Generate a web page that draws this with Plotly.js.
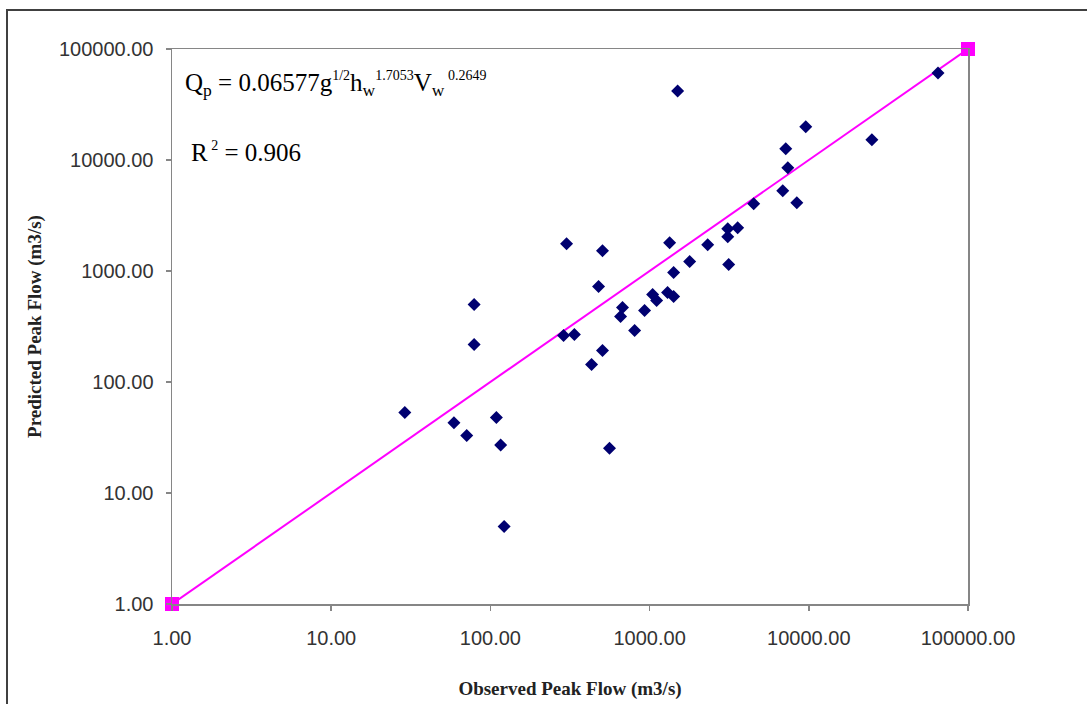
<!DOCTYPE html>
<html>
<head>
<meta charset="utf-8">
<script src="https://cdn.plot.ly/plotly-3.0.1.min.js"></script>
<style>
  html, body { margin: 0; padding: 0; background: #ffffff; overflow: hidden; }
  #chart { width: 1087px; height: 704px; }
</style>
</head>
<body>
<div id="chart"></div>
<script>
// Observed vs predicted peak flow (m3/s)
const observedFlow = [29, 59, 71, 79, 79, 109, 116, 122, 301, 288, 337, 432, 506, 506, 478, 560,
  657, 676, 805, 930, 1045, 1107, 1297, 1336, 1416, 1416, 1500, 1785, 2317, 3096, 3096, 3140,
  3574, 4508, 6860, 7165, 7380, 8410, 9570, 24900, 64800];
const predictedFlow = [53, 43, 33, 500, 218, 48, 27, 5.0, 1760, 262, 268, 144, 192, 1525, 724, 25.3,
  389, 469, 291, 441, 614, 542, 640, 1800, 589, 967, 41900, 1216, 1727, 2404, 2039, 1142,
  2455, 4037, 5284, 12610, 8510, 4122, 19900, 15200, 60800];

// 1:1 line endpoints
const lineX = [1, 100000];
const lineY = [1, 100000];

// Tick values and labels
const tickValues = [1, 10, 100, 1000, 10000, 100000];
const tickLabels = ["1.00", "10.00", "100.00", "1000.00", "10000.00", "100000.00"];

const smallSup = (t) => "<sup><span style=\"font-size:14px\">" + t + "</span></sup>";
const equationText = "Q<sub>p</sub> = 0.06577g" + smallSup("1/2") + "h<sub>w</sub>" + smallSup("1.7053") +
  "V<sub>w</sub>" + smallSup(" 0.2649");
const r2Text = "R" + smallSup(" 2") + " = 0.906";

const traces = [
  {
    x: lineX, y: lineY, type: "scatter", mode: "lines+markers",
    line: { color: "#FF00FF", width: 2 },
    marker: { symbol: "square", size: 14, color: "#FF00FF" },
    cliponaxis: false, hoverinfo: "skip", showlegend: false
  },
  {
    x: observedFlow, y: predictedFlow, type: "scatter", mode: "markers",
    marker: { symbol: "diamond", size: 10, color: "#000070" },
    cliponaxis: false, showlegend: false
  }
];

const axisCommon = {
  type: "log",
  range: [0, 5],
  tickmode: "array",
  tickvals: tickValues,
  ticktext: tickLabels,
  ticks: "outside",
  ticklen: 5,
  tickwidth: 1.5,
  tickcolor: "#868686",
  showline: true,
  linecolor: "#868686",
  linewidth: 1.5,
  mirror: true,
  showgrid: false,
  zeroline: false,
  automargin: false,
  tickfont: { family: "Liberation Sans, Arial, sans-serif", size: 20, color: "#333333" }
};

const layout = {
  width: 1087,
  height: 704,
  margin: { l: 172, r: 119, t: 49, b: 100 },
  paper_bgcolor: "#ffffff",
  plot_bgcolor: "#ffffff",
  showlegend: false,
  xaxis: Object.assign({}, axisCommon, {
    ticklabelstandoff: 10,
    title: { text: "Observed Peak Flow (m3/s)", standoff: 34,
      font: { family: "Liberation Serif, Times New Roman, serif", size: 19, color: "#222222", weight: "bold" } }
  }),
  yaxis: Object.assign({}, axisCommon, {
    ticklabelstandoff: 8,
    title: { text: "Predicted Peak Flow (m3/s)", standoff: 12,
      font: { family: "Liberation Serif, Times New Roman, serif", size: 19, color: "#222222", weight: "bold" } }
  }),
  annotations: [
    { xref: "paper", yref: "paper", x: (183 - 172) / 796, y: 1 - (84 - 49) / 555,
      xanchor: "left", yanchor: "middle", showarrow: false, text: equationText,
      font: { family: "Liberation Serif, Times New Roman, serif", size: 25, color: "#000000" } },
    { xref: "paper", yref: "paper", x: (189 - 172) / 796, y: 1 - (152 - 49) / 555,
      xanchor: "left", yanchor: "middle", showarrow: false, text: r2Text,
      font: { family: "Liberation Serif, Times New Roman, serif", size: 25, color: "#000000" } }
  ],
  shapes: [
    { type: "rect", xref: "paper", yref: "paper",
      x0: (7 - 172) / 796, x1: (1100 - 172) / 796,
      y0: (604 - 720) / 555, y1: 1 + (49 - 10) / 555,
      line: { color: "#404040", width: 2 }, fillcolor: "rgba(0,0,0,0)", layer: "below" }
  ]
};

Plotly.newPlot("chart", traces, layout, { displayModeBar: false, staticPlot: true });
</script>
</body>
</html>
